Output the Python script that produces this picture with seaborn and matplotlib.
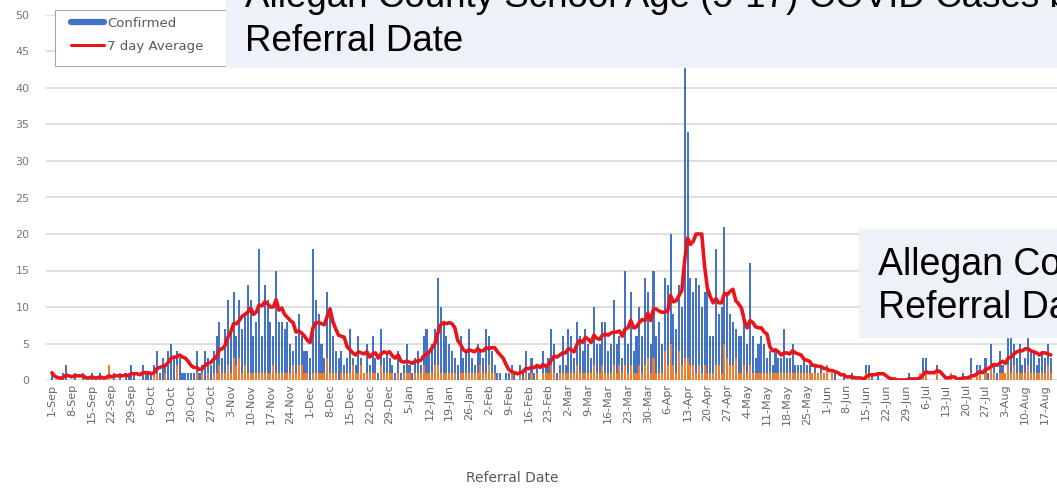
import numpy as np
import pandas as pd
import seaborn as sns
import matplotlib.pyplot as plt
from matplotlib.patches import Rectangle
from matplotlib.lines import Line2D

start_date = "2020-09-01"

# daily counts by referral date, one line per week (Tue..Mon)
confirmed = [
    1, 0, 0, 0, 1, 2, 0,
    0, 1, 0, 0, 1, 0, 0,
    1, 0, 0, 1, 0, 0, 2,
    0, 1, 0, 1, 0, 1, 1,
    2, 1, 0, 0, 2, 1, 1,
    1, 2, 4, 1, 3, 2, 4,
    5, 3, 4, 3, 1, 1, 1,
    1, 1, 4, 1, 2, 4, 3,
    2, 4, 6, 8, 3, 7, 11,
    7, 12, 6, 11, 7, 9, 13,
    11, 6, 8, 18, 6, 13, 11,
    8, 6, 15, 8, 8, 7, 8,
    5, 4, 6, 9, 6, 4, 4,
    3, 18, 11, 9, 5, 3, 12,
    10, 6, 4, 3, 4, 2, 3,
    7, 3, 2, 6, 3, 1, 5,
    2, 6, 3, 1, 7, 3, 4,
    3, 2, 1, 4, 1, 2, 5,
    2, 1, 3, 4, 2, 6, 7,
    4, 5, 7, 14, 10, 8, 6,
    5, 4, 3, 2, 6, 3, 4,
    7, 3, 2, 5, 4, 3, 7,
    6, 4, 2, 1, 1, 0, 1,
    1, 2, 1, 0, 2, 1, 4,
    1, 3, 1, 2, 0, 4, 2,
    3, 7, 5, 1, 2, 6, 2,
    7, 6, 3, 8, 6, 4, 7,
    5, 3, 10, 5, 5, 8, 8,
    4, 5, 11, 5, 6, 3, 15,
    5, 12, 4, 6, 10, 6, 14,
    12, 5, 15, 6, 8, 5, 14,
    13, 20, 9, 7, 13, 10, 43,
    34, 14, 12, 14, 13, 10, 12,
    13, 6, 6, 18, 9, 10, 21,
    12, 9, 8, 7, 6, 6, 9,
    5, 16, 6, 3, 5, 6, 5,
    3, 4, 2, 4, 3, 3, 7,
    3, 3, 5, 2, 2, 2, 3,
    2, 2, 1, 2, 1, 2, 1,
    2, 0, 1, 1, 0, 0, 1,
    0, 0, 1, 0, 0, 0, 0,
    2, 2, 1, 0, 1, 0, 0,
    0, 0, 0, 0, 0, 0, 0,
    0, 1, 0, 0, 0, 1, 3,
    3, 0, 0, 0, 2, 0, 0,
    0, 0, 1, 0, 0, 0, 1,
    0, 0, 3, 0, 2, 2, 0,
    3, 1, 5, 2, 1, 4, 2,
    1, 6, 6, 5, 3, 5, 2,
    3, 6, 4, 4, 2, 3, 4,
    3, 5, 3,
]

probable = [
    0, 0, 0, 0, 0, 0, 0,
    0, 0, 0, 0, 0, 0, 0,
    0, 0, 0, 0, 0, 0, 2,
    0, 0, 0, 0, 0, 0, 0,
    0, 0, 0, 0, 0, 0, 0,
    0, 1, 1, 0, 0, 1, 0,
    0, 0, 2, 0, 0, 0, 0,
    0, 0, 1, 0, 1, 0, 1,
    0, 1, 1, 2, 1, 1, 2,
    1, 3, 2, 3, 1, 2, 1,
    1, 1, 1, 1, 1, 1, 1,
    1, 2, 1, 1, 1, 1, 1,
    1, 2, 1, 2, 2, 1, 1,
    0, 1, 1, 1, 1, 1, 3,
    1, 1, 1, 0, 1, 1, 1,
    1, 2, 1, 1, 2, 1, 1,
    1, 1, 1, 0, 2, 1, 1,
    1, 1, 0, 1, 0, 1, 1,
    1, 0, 1, 1, 1, 2, 1,
    1, 1, 2, 2, 1, 1, 1,
    1, 1, 1, 0, 1, 1, 1,
    1, 1, 1, 1, 2, 1, 1,
    2, 1, 1, 0, 0, 0, 0,
    0, 1, 0, 0, 1, 0, 1,
    0, 1, 0, 1, 0, 1, 1,
    1, 2, 1, 0, 1, 1, 1,
    1, 1, 1, 2, 1, 1, 1,
    1, 1, 2, 1, 1, 2, 1,
    1, 1, 2, 1, 2, 1, 2,
    1, 2, 1, 1, 2, 1, 2,
    3, 1, 3, 1, 1, 1, 4,
    2, 5, 2, 1, 4, 2, 3,
    3, 2, 2, 1, 2, 1, 2,
    1, 1, 1, 2, 2, 1, 5,
    3, 2, 2, 3, 1, 1, 2,
    1, 2, 1, 1, 1, 1, 1,
    1, 1, 1, 1, 1, 1, 1,
    1, 1, 1, 1, 1, 1, 1,
    1, 1, 1, 1, 1, 1, 1,
    2, 0, 1, 0, 0, 0, 0,
    0, 0, 0, 0, 0, 0, 0,
    1, 1, 0, 0, 0, 0, 0,
    0, 0, 0, 0, 0, 0, 0,
    0, 0, 0, 0, 0, 1, 1,
    1, 0, 0, 0, 1, 0, 0,
    0, 0, 1, 0, 0, 0, 0,
    0, 0, 1, 0, 1, 1, 0,
    1, 0, 2, 1, 0, 1, 1,
    1, 2, 1, 2, 1, 1, 1,
    1, 2, 1, 1, 1, 1, 1,
    1, 2, 1,
]

title_lines = ["Allegan County School Age (5-17) COVID Cases by", "Referral Date"]
inset_lines = ["Allegan County", "Referral Date"]

if __name__ == "__main__":
    dates = pd.date_range(start_date, periods=len(confirmed), freq="D")
    df = pd.DataFrame({"day": np.arange(len(confirmed)),
                       "confirmed": confirmed,
                       "probable": probable})
    df["avg7"] = df["confirmed"].rolling(7, min_periods=1).mean()

    tick_days = df["day"].values[::7]
    tick_labels = [f"{d.day}-{d:%b}" for d in dates[::7]]

    sns.set_style("white")
    plt.rcParams["font.family"] = ["DejaVu Sans"]

    W, H = 1057, 493
    fig = plt.figure(figsize=(W / 100, H / 100), dpi=100)
    ax = fig.add_axes([46 / W, 113 / H, 1011 / W, 365 / H])

    sns.barplot(data=df, x="day", y="confirmed", native_scale=True, color="#4472C4",
                saturation=1, width=0.72, linewidth=0, errorbar=None, ax=ax)
    sns.barplot(data=df, x="day", y="probable", native_scale=True, color="#ED7D31",
                saturation=1, width=0.72, linewidth=0, errorbar=None, ax=ax)
    sns.lineplot(data=df, x="day", y="avg7", color="#E8161B", lw=2.6, ax=ax)

    ax.set_xlim(-2.1, 354.2)
    ax.set_ylim(0, 50)
    ax.set_yticks(range(0, 51, 5))
    ax.yaxis.grid(True, color="#DCDCDC", lw=1.3)
    ax.set_axisbelow(True)
    for s in ax.spines.values():
        s.set_visible(False)
    ax.set_xticks(tick_days)
    ax.set_xticklabels(tick_labels, rotation=90, fontsize=8, color="#666666")
    ax.tick_params(axis="x", length=0, pad=3)
    ax.tick_params(axis="y", length=0, pad=12, labelsize=8, labelcolor="#777777")
    ax.set_ylabel("")
    ax.set_xlabel("Referral Date", fontsize=10, color="#595959")
    ax.xaxis.set_label_coords(466 / 1011, -91 / 365)

    # legend: frame drawn separately so the handles sit inset like the original
    fig.add_artist(Rectangle((55 / W, 1 - 66 / H), 200 / W, 56 / H,
                             transform=fig.transFigure, facecolor="white",
                             edgecolor="#A6A6A6", lw=0.8, zorder=3))
    handles = [Line2D([], [], color="#4472C4", lw=4.5),
               Line2D([], [], color="#E8161B", lw=2.2)]
    leg = fig.legend(handles, ["Confirmed", "7 day Average"], loc="upper left",
                     bbox_to_anchor=(71 / W, 1 - 17 / H), bbox_transform=fig.transFigure,
                     borderaxespad=0, borderpad=0, fontsize=9.5, handlelength=2.5,
                     labelspacing=0.75, frameon=False, labelcolor="#595959",
                     handletextpad=0.25)
    leg.set_zorder(4)

    # overlaid slide text boxes
    box_color = "#EEF1F7"
    fig.add_artist(Rectangle((226 / W, 1 - 67 / H), 1 - 226 / W, 67 / H,
                             transform=fig.transFigure, color=box_color, zorder=5))
    fig.add_artist(Rectangle((859 / W, 1 - 337 / H), 1 - 859 / W, 108 / H,
                             transform=fig.transFigure, color=box_color, zorder=5))
    font = ["Liberation Sans", "DejaVu Sans"]
    for txt, yb in zip(title_lines, [7, 51]):
        fig.text(245 / W, 1 - yb / H, txt, fontsize=26.5, family=font, color="black",
                 va="baseline", ha="left", zorder=6)
    for txt, yb in zip(inset_lines, [275, 318]):
        fig.text(878 / W, 1 - yb / H, txt, fontsize=27, family=font, color="black",
                 va="baseline", ha="left", zorder=6)

    fig.savefig("out.png", dpi=100)
